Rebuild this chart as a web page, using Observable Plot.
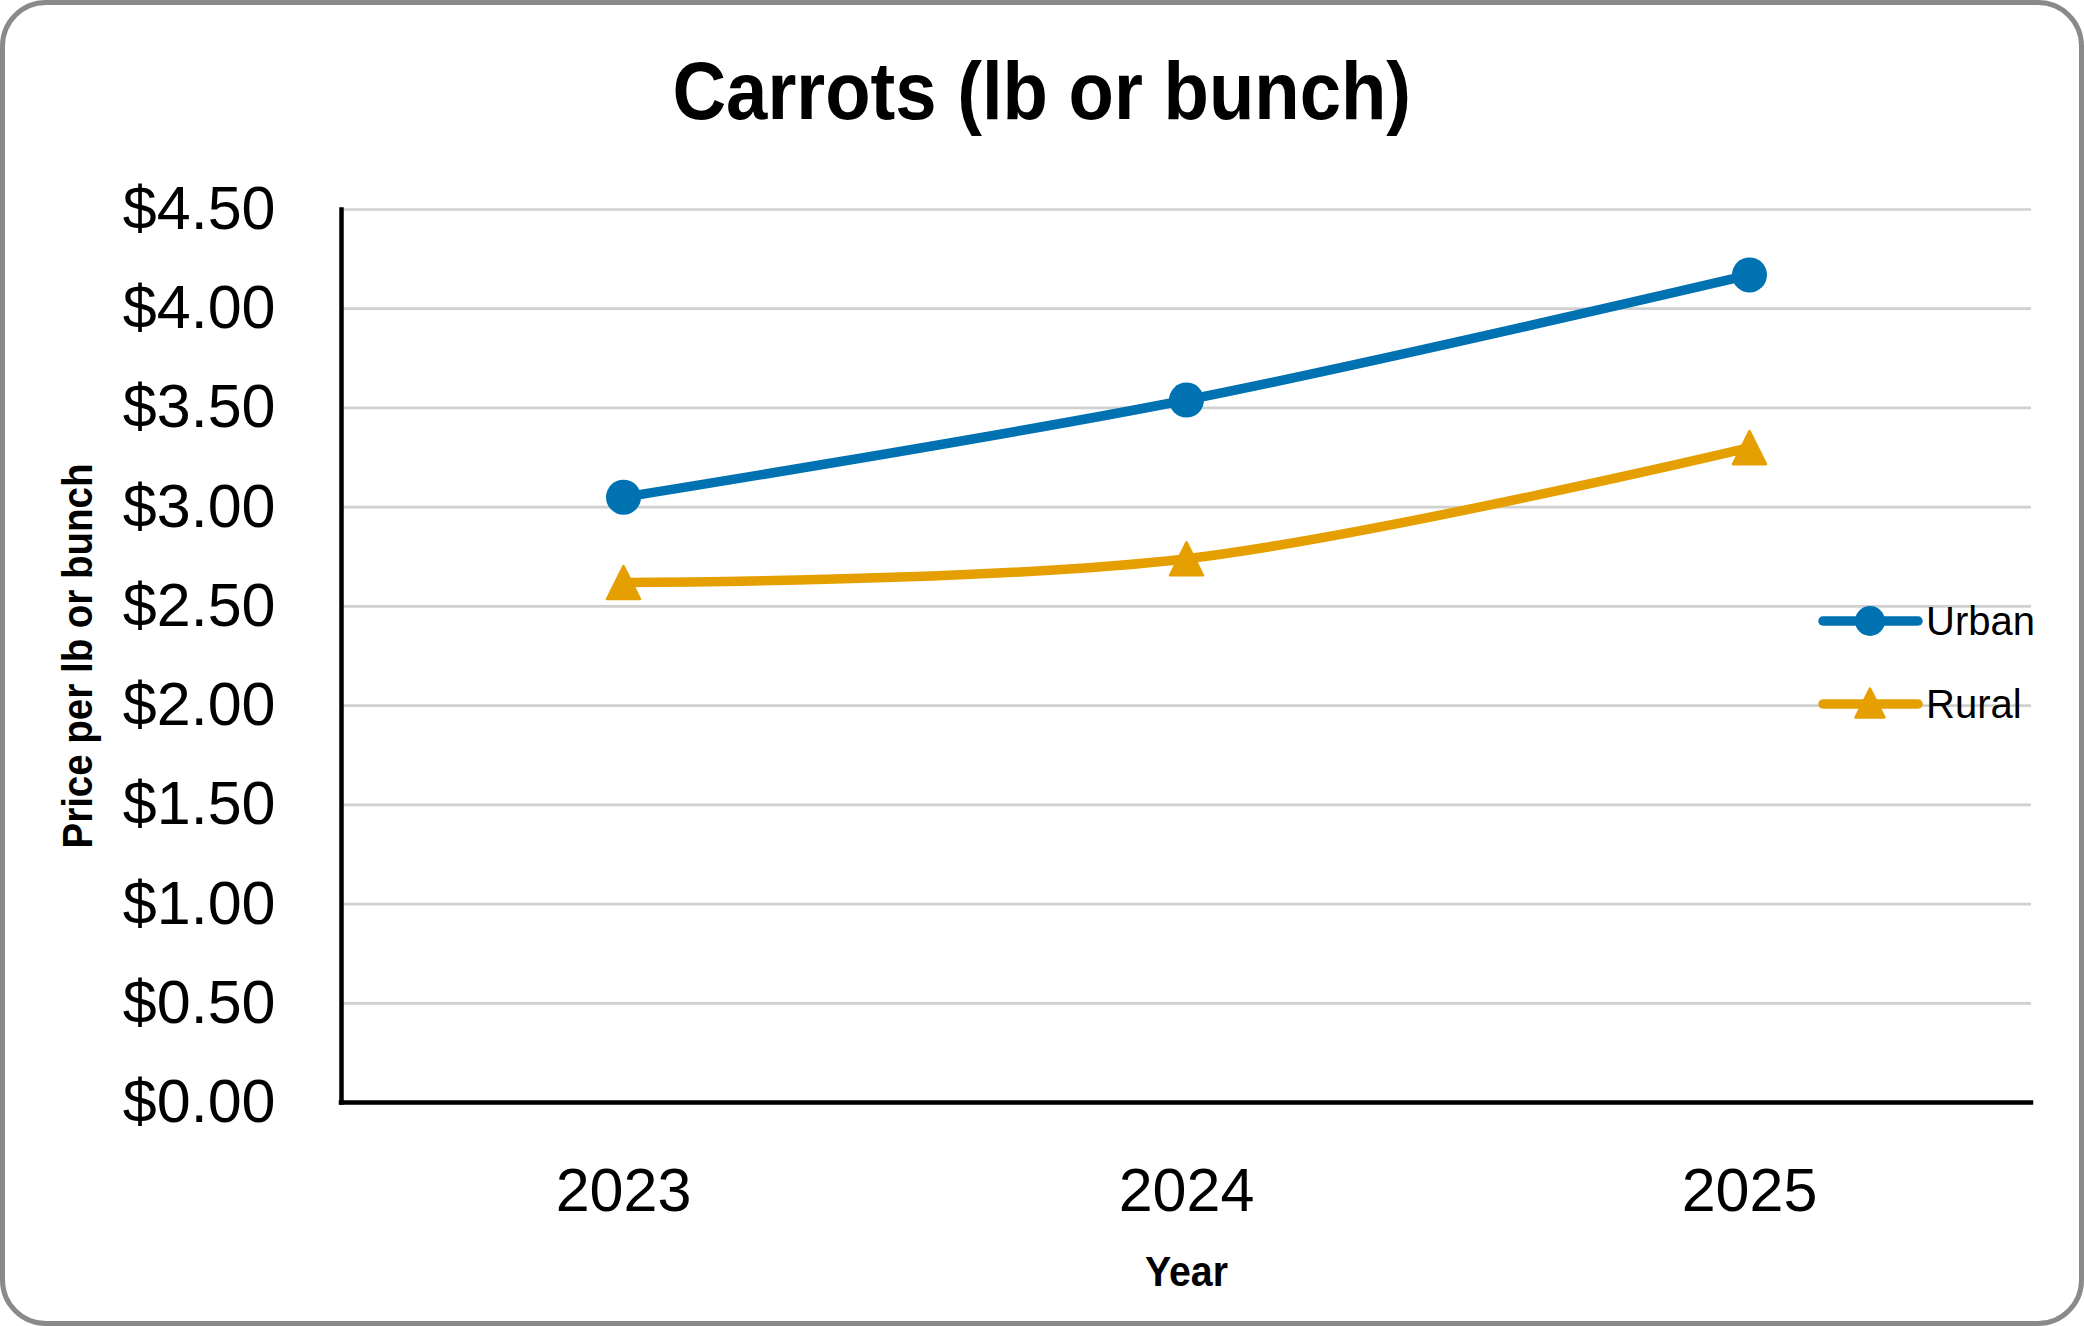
<!DOCTYPE html>
<html><head><meta charset="utf-8">
<script src="https://cdn.jsdelivr.net/npm/d3@7"></script>
<script src="https://cdn.jsdelivr.net/npm/@observablehq/plot@0.6"></script>
<style>
html,body{margin:0;padding:0;background:#fff;}
#wrap{position:relative;width:2084px;height:1326px;overflow:hidden;background:#fff;font-family:"Liberation Sans",Arial,sans-serif;}
#border{position:absolute;left:0;top:0;width:2084px;height:1326px;box-sizing:border-box;border:5px solid #8a8a8a;border-radius:46px;pointer-events:none;}
#title{height:150px;box-sizing:border-box;padding-top:51px;text-align:center;line-height:81px;font-size:81px;font-weight:bold;color:#000;white-space:nowrap;}
#title span{display:inline-block;transform:scaleX(0.917);}
#chart svg{display:block;}
</style></head><body>
<div id="wrap"><div id="title"><span>Carrots (lb or bunch)</span></div><div id="chart"></div><div id="border"></div></div>
<script>
const years = ["2023", "2024", "2025"];
const urban = [3.05, 3.54, 4.17];
const rural = [2.62, 2.74, 3.30];
const seriesNames = ["Urban", "Rural"];
const colors = ["#0072B2", "#E69F00"];
const yTicks = [0, 0.5, 1, 1.5, 2, 2.5, 3, 3.5, 4, 4.5];
const yLabel = "Price per lb or bunch";
const xLabel = "Year";

const rows = [];
years.forEach((y, i) => {
  rows.push({year: y, series: seriesNames[0], value: urban[i]});
  rows.push({year: y, series: seriesNames[1], value: rural[i]});
});

const triangle = {draw(context, size) {
  const s = Math.sqrt(size);
  context.moveTo(0, -s / 2);
  context.lineTo(s / 2, s / 2);
  context.lineTo(-s / 2, s / 2);
  context.closePath();
}};

const font = '"Liberation Sans", Arial, sans-serif';

const chart = Plot.plot({
  width: 2084, height: 1176,
  marginTop: 59, marginBottom: 224, marginLeft: 341, marginRight: 53,
  style: {fontFamily: font, background: "transparent", color: "#000", overflow: "visible"},
  x: {type: "point", domain: years, padding: 0.5, label: null},
  y: {domain: [0, 4.5], label: null},
  color: {domain: seriesNames, range: colors},
  marks: [
    Plot.gridY(yTicks.slice(1), {stroke: "#d0d0d0", strokeOpacity: 1, strokeWidth: 2.7}),
    Plot.axisY(yTicks, {tickSize: 0, tickPadding: 66, fontSize: 61, tickFormat: d => "$" + d.toFixed(2), label: null}),
    Plot.axisX({tickSize: 0, tickPadding: 65, fontSize: 61, label: null}),
    Plot.text([yLabel], {frameAnchor: "left", rotate: -90, dx: -263, dy: 0, fontSize: 43, fontWeight: "bold", lineAnchor: "middle", textAnchor: "middle"}),
    Plot.text([xLabel], {frameAnchor: "bottom", dy: 170, fontSize: 43, fontWeight: "bold", lineAnchor: "middle", textAnchor: "middle"}),
    Plot.ruleY([0], {stroke: "#000", strokeWidth: 4.5, strokeLinecap: "square"}),
    Plot.frame({anchor: "left", stroke: "#000", strokeWidth: 4.5, strokeLinecap: "square"}),
    Plot.line(rows, {x: "year", y: "value", stroke: "series", z: "series", curve: "cardinal", strokeWidth: 9.5, strokeLinecap: "round", strokeLinejoin: "round"}),
    Plot.dot(rows.filter(d => d.series === seriesNames[0]), {x: "year", y: "value", r: 17.5, fill: colors[0], symbol: "circle"}),
    Plot.dot(rows.filter(d => d.series === seriesNames[1]), {x: "year", y: "value", r: 33 / Math.sqrt(Math.PI), symbol: triangle, fill: colors[1], stroke: colors[1], strokeWidth: 2.5, strokeLinejoin: "round"})
  ]
});

// compress bold axis titles to match the narrower original face
d3.select(chart).selectAll("text").each(function() {
  const t = this.textContent;
  if (t === yLabel) { this.setAttribute("textLength", 385); this.setAttribute("lengthAdjust", "spacingAndGlyphs"); }
  if (t === xLabel) { this.setAttribute("textLength", 83); this.setAttribute("lengthAdjust", "spacingAndGlyphs"); }
});

// legend drawn inside the plot area at the right
const svg = d3.select(chart);
const lg = svg.append("g").attr("class", "legend").attr("text-anchor", "start");
const legendY = [471, 554];
seriesNames.forEach((name, i) => {
  const g = lg.append("g").attr("transform", `translate(0,${legendY[i]})`);
  g.append("line").attr("x1", 1823).attr("x2", 1918).attr("y1", 0).attr("y2", 0)
    .attr("stroke", colors[i]).attr("stroke-width", 9.5).attr("stroke-linecap", "round");
  if (i === 0) {
    g.append("circle").attr("cx", 1870).attr("cy", 0).attr("r", 15).attr("fill", colors[i]);
  } else {
    const p = d3.path(); triangle.draw(p, 29 * 29);
    g.append("path").attr("d", p.toString()).attr("transform", "translate(1870,-1)")
      .attr("fill", colors[i]).attr("stroke", colors[i]).attr("stroke-width", 2.5).attr("stroke-linejoin", "round");
  }
  g.append("text").attr("x", 1926).attr("y", 0).attr("dy", "0.35em").attr("text-anchor", "start")
    .attr("font-size", 40).attr("font-family", font).attr("fill", "#000").text(name);
});

document.getElementById("chart").appendChild(chart);
</script>
</body></html>
